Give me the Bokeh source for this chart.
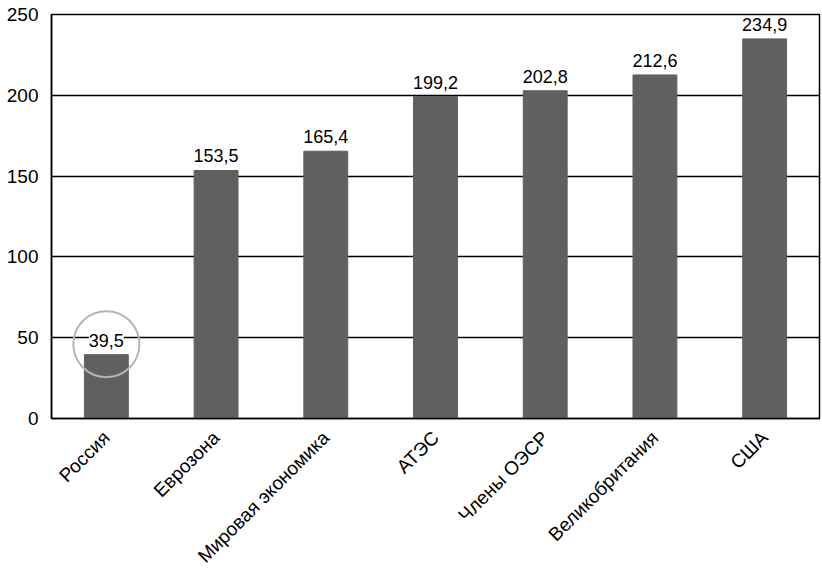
import math
from bokeh.plotting import figure
from bokeh.models import ColumnDataSource, LabelSet, FixedTicker, Range1d
from bokeh.core.properties import value
from bokeh.embed import file_html
from bokeh.resources import INLINE

categories = ["Россия", "Еврозона", "Мировая экономика", "АТЭС",
              "Члены ОЭСР", "Великобритания", "США"]
values = [39.5, 153.5, 165.4, 199.2, 202.8, 212.6, 234.9]
value_labels = ["39,5", "153,5", "165,4", "199,2", "202,8", "212,6", "234,9"]
y_ticks = [0, 50, 100, 150, 200, 250]

FONT = "Liberation Sans"
BAR_COLOR = "#606060"

src = ColumnDataSource(dict(cat=categories, val=values, lab=value_labels))

p = figure(x_range=categories, y_range=Range1d(0, 250),
           frame_width=768, frame_height=404,
           output_backend="svg", toolbar_location=None,
           min_border_left=51, min_border_right=3, min_border_top=14,
           min_border_bottom=0)

p.vbar(x="cat", top="val", width=0.4, source=src, color=BAR_COLOR)

labels = LabelSet(x="cat", y="val", text="lab", source=src,
                  text_align="center", text_baseline="bottom", y_offset=8,
                  text_font=value(FONT), text_font_size="18px",
                  text_color="black", background_fill_color="white")
p.add_layout(labels)

# highlight ring around the first bar's value
p.scatter(x=[categories[0]], y=[values[0] + 6.5], size=66, marker="circle",
          fill_color=None, line_color="#b4b4b4", line_width=2)

p.outline_line_color = "black"
p.outline_line_width = 1.5
p.xgrid.grid_line_color = None
p.ygrid.grid_line_color = "black"
p.ygrid.grid_line_width = 1.5

p.yaxis.ticker = FixedTicker(ticks=y_ticks)
p.yaxis.axis_line_color = "black"
p.yaxis.axis_line_width = 1.5
p.yaxis.major_tick_line_color = None
p.yaxis.minor_tick_line_color = None
p.yaxis.major_label_text_font = FONT
p.yaxis.major_label_text_font_size = "19px"
p.yaxis.major_label_text_color = "black"
p.yaxis.major_label_standoff = 7

p.xaxis.axis_line_color = "black"
p.xaxis.axis_line_width = 1.5
p.xaxis.major_tick_line_color = None
p.xaxis.minor_tick_line_color = None
p.xaxis.major_label_orientation = math.pi / 4
p.xaxis.major_label_text_font = FONT
p.xaxis.major_label_text_font_size = "19px"
p.xaxis.major_label_text_color = "black"
p.xaxis.major_label_standoff = 10

open("out.html", "w").write(file_html(p, INLINE))
